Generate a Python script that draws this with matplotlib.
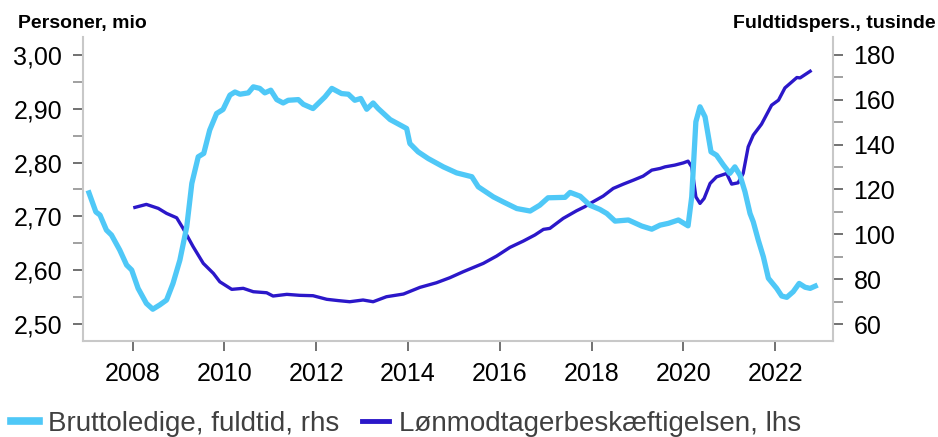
import matplotlib
matplotlib.use('Agg')
import numpy as np
from matplotlib import pyplot as plt
from matplotlib.ticker import MultipleLocator, FuncFormatter

plt.rcParams['font.family'] = ['Liberation Sans', 'DejaVu Sans']

# Bruttoledige, fuldtid (tusinde fuldtidspers., rhs)
ledige_aar = [2007.05, 2007.20, 2007.29, 2007.43, 2007.54, 2007.72, 2007.87, 2007.98,
              2008.12, 2008.30, 2008.44, 2008.59, 2008.74, 2008.88, 2009.03, 2009.18,
              2009.29, 2009.43, 2009.55, 2009.68, 2009.83, 2009.97, 2010.12, 2010.23,
              2010.34, 2010.52, 2010.63, 2010.77, 2010.88, 2011.01, 2011.14, 2011.28,
              2011.39, 2011.61, 2011.72, 2011.93, 2012.08, 2012.19, 2012.34, 2012.55,
              2012.70, 2012.84, 2012.97, 2013.10, 2013.24, 2013.35, 2013.61, 2013.97,
              2014.04, 2014.22, 2014.44, 2014.77, 2015.06, 2015.39, 2015.53, 2015.86,
              2016.07, 2016.37, 2016.66, 2016.87, 2017.05, 2017.42, 2017.53, 2017.75,
              2017.96, 2018.18, 2018.33, 2018.51, 2018.80, 2019.09, 2019.31, 2019.49,
              2019.67, 2019.89, 2020.10, 2020.18, 2020.27, 2020.36, 2020.47, 2020.60,
              2020.72, 2020.87, 2021.01, 2021.12, 2021.23, 2021.34, 2021.45, 2021.52,
              2021.63, 2021.74, 2021.85, 2022.03, 2022.14, 2022.25, 2022.39, 2022.52,
              2022.65, 2022.76, 2022.87]
ledige = [118.5, 110.0, 108.6, 101.9, 99.7, 93.0, 86.3, 84.1,
          75.9, 69.2, 66.6, 68.5, 70.7, 78.1, 88.5, 103.4,
          122.7, 134.6, 136.1, 146.5, 153.9, 155.7, 162.1, 163.5,
          162.5, 163.1, 165.8, 165.1, 163.1, 164.3, 160.1, 158.6,
          159.8, 160.1, 158.0, 156.1, 159.1, 161.3, 165.1, 162.8,
          162.5, 159.8, 160.6, 155.8, 158.6, 156.1, 151.2, 147.2,
          140.5, 136.8, 133.8, 130.1, 127.4, 125.7, 121.2, 116.7,
          114.5, 111.5, 110.4, 113.0, 116.3, 116.5, 118.7, 117.0,
          113.0, 111.1, 109.3, 105.9, 106.4, 103.7, 102.3, 104.1,
          104.9, 106.4, 103.8, 116.7, 150.2, 156.9, 152.4, 136.8,
          135.3, 130.9, 127.2, 130.1, 126.4, 119.0, 109.3, 105.6,
          97.4, 90.0, 80.4, 75.9, 72.5, 71.9, 74.4, 78.1,
          76.4, 75.9, 76.9]

# Lønmodtagerbeskæftigelsen (personer, mio, lhs)
besk_aar = [2008.05, 2008.30, 2008.56, 2008.74, 2008.96, 2009.10, 2009.32, 2009.54,
            2009.76, 2009.90, 2010.16, 2010.41, 2010.63, 2010.92, 2011.06, 2011.36,
            2011.64, 2011.93, 2012.23, 2012.48, 2012.73, 2013.02, 2013.24, 2013.53,
            2013.90, 2014.26, 2014.62, 2014.91, 2015.20, 2015.64, 2015.93, 2016.22,
            2016.51, 2016.76, 2016.95, 2017.09, 2017.38, 2017.67, 2017.85, 2018.03,
            2018.25, 2018.47, 2018.69, 2018.91, 2019.12, 2019.31, 2019.49, 2019.60,
            2019.81, 2020.00, 2020.10, 2020.18, 2020.27, 2020.36, 2020.45, 2020.58,
            2020.72, 2020.94, 2021.05, 2021.19, 2021.30, 2021.41, 2021.52, 2021.70,
            2021.92, 2022.07, 2022.21, 2022.47, 2022.54, 2022.76]
besk = [2.7167, 2.7223, 2.7149, 2.7056, 2.6974, 2.6777, 2.6436, 2.6127,
        2.5941, 2.5785, 2.5644, 2.5663, 2.5600, 2.5581, 2.5520, 2.5551,
        2.5533, 2.5526, 2.5459, 2.5435, 2.5414, 2.5446, 2.5414, 2.5507,
        2.5557, 2.5681, 2.5767, 2.5860, 2.5971, 2.6127, 2.6263, 2.6424,
        2.6541, 2.6653, 2.6759, 2.6777, 2.6963, 2.7104, 2.7180, 2.7271,
        2.7377, 2.7520, 2.7600, 2.7674, 2.7748, 2.7860, 2.7891, 2.7921,
        2.7953, 2.7995, 2.8027, 2.7921, 2.7364, 2.7241, 2.7334, 2.7613,
        2.7735, 2.7798, 2.7600, 2.7624, 2.7798, 2.8293, 2.8510, 2.8714,
        2.9067, 2.9160, 2.9388, 2.9581, 2.9574, 2.9698]

aar_ticks = [2008, 2010, 2012, 2014, 2016, 2018, 2020, 2022]

lys_blaa = '#4FC8F7'
mork_blaa = '#2B17C9'
spine_col = '#C8C8C8'
tick_col = '#666666'

fig = plt.figure(figsize=(9.38, 4.37), dpi=100)
ax = fig.add_axes([0.0885, 0.2204, 0.7992, 0.6949])
ax2 = ax.twinx()

ax.plot(besk_aar, besk, color=mork_blaa, lw=2.4, solid_joinstyle='round')
ax2.plot(ledige_aar, ledige, color=lys_blaa, lw=3.8, solid_joinstyle='round')

ax.set_xlim(2006.92, 2023.25)
ax.set_ylim(2.469, 3.0334)
ax2.set_ylim(52.56, 188.02)

ax.set_xticks(aar_ticks)
ax.set_xticklabels([str(a) for a in aar_ticks])
ax.yaxis.set_major_locator(MultipleLocator(0.1))
ax.yaxis.set_minor_locator(MultipleLocator(0.05))
ax.yaxis.set_major_formatter(FuncFormatter(lambda v, p: f'{v:.2f}'.replace('.', ',')))
ax2.yaxis.set_major_locator(MultipleLocator(20))
ax2.yaxis.set_minor_locator(MultipleLocator(10))

for a in (ax, ax2):
    a.spines['top'].set_visible(False)
    for s in ('left', 'right', 'bottom'):
        a.spines[s].set_color(spine_col)
        a.spines[s].set_linewidth(1.5)
    a.tick_params(axis='both', which='major', length=7, width=1.3, color=tick_col,
                  labelsize=18, pad=8, labelcolor='black')
    a.tick_params(axis='y', which='minor', length=7, width=1.3, color='#999999')
ax.spines['right'].set_visible(False)
ax2.spines['left'].set_visible(False)
ax2.spines['bottom'].set_visible(False)
ax.tick_params(axis='x', which='minor', bottom=False)

fig.text(0.019, 0.935, 'Personer, mio', fontsize=14, fontweight='bold', ha='left', va='baseline')
fig.text(0.997, 0.935, 'Fuldtidspers., tusinde', fontsize=14, fontweight='bold', ha='right', va='baseline')

h1, = ax2.plot([], [], color=lys_blaa, lw=5.5)
h2, = ax.plot([], [], color=mork_blaa, lw=3.5)
leg = fig.legend([h1, h2], ['Bruttoledige, fuldtid, rhs', 'Lønmodtagerbeskæftigelsen, lhs'],
                 loc='center left', bbox_to_anchor=(0.012, 0.03), ncol=2, frameon=False,
                 fontsize=20, handlelength=1.0, handletextpad=0.33, columnspacing=0.8,
                 borderaxespad=0, borderpad=0)
for t in leg.get_texts():
    t.set_color('#404040')

plt.savefig('out.png', dpi=100)
plt.close()
